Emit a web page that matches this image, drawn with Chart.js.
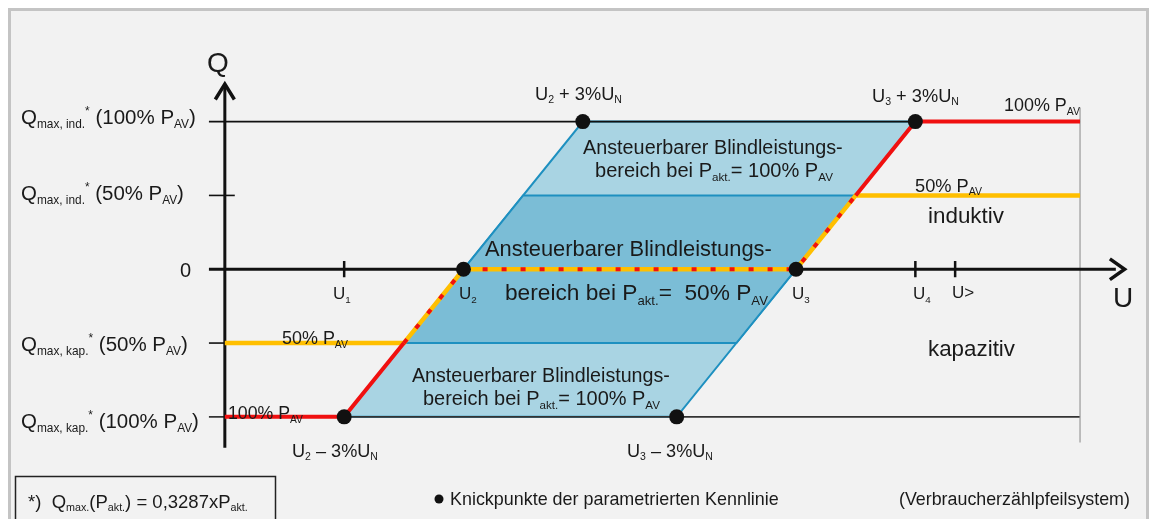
<!DOCTYPE html>
<html>
<head>
<meta charset="utf-8">
<script src="https://cdn.jsdelivr.net/npm/chart.js@4/dist/chart.umd.min.js"></script>
<style>
html,body{margin:0;padding:0;background:#fff;}
canvas{display:block;}
</style>
</head>
<body>
<canvas id="c" width="1154" height="519"></canvas>
<script>
// ---------- DATA (U in % of U_N, Q in p.u. of Qmax) ----------
const KNICK_U = [94, 97, 100, 108.36, 105.36, 102.36];
const KNICK_Q = [-1, 0, 1, 1, 0, -1];
const CHAR100_U = [91, 94, 95.5, 97, 105.36, 106.86, 108.36, 112.5];
const CHAR100_Q = [-1, -1, -0.5, 0, 0, 0.5, 1, 1];
const CHAR50_U = [91, 95.5, 97, 105.36, 106.86, 112.5];
const CHAR50_Q = [-0.5, -0.5, 0, 0, 0.5, 0.5];
const AREA100_U = [94, 100, 108.36, 102.36, 94];
const AREA100_Q = [-1, 1, 1, -1, -1];
const AREA50_U = [95.5, 98.5, 106.86, 103.86, 95.5];
const AREA50_Q = [-0.5, 0.5, 0.5, -0.5, -0.5];
const Q_LEVELS = [1, 0.5, 0, -0.5, -1];
const U_TICKS = [94, 108.36, 109.36];
const REF_U = [90.6, 112.5];

function pts(us, qs){ return us.map((u,i)=>({x:u, y:qs[i]})); }

const BLACK = '#111';
const layers = [
  // bottom -> top
  {data: pts(AREA100_U, AREA100_Q), fill:'shape', backgroundColor:'#a9d4e3', borderColor:'#1e90c0', borderWidth:2},
  {data: pts(AREA50_U, AREA50_Q), fill:'shape', backgroundColor:'#7bbdd6', borderColor:'#1e90c0', borderWidth:2},
  {data: pts(REF_U, [Q_LEVELS[0], Q_LEVELS[0]]), borderColor:BLACK, borderWidth:1.6},
  {data: pts(REF_U, [Q_LEVELS[4], Q_LEVELS[4]]), borderColor:'#333', borderWidth:1.6},
  {data: pts([112.5,112.5],[1.095,-1.174]), borderColor:'#9a9a9a', borderWidth:1.2},
  {data: pts([90.6,91.25],[Q_LEVELS[1],Q_LEVELS[1]]), borderColor:BLACK, borderWidth:1.6},
  {data: pts([90.6,91],[Q_LEVELS[3],Q_LEVELS[3]]), borderColor:BLACK, borderWidth:1.6},
  {data: pts([90.6,113.4],[0,0]), borderColor:BLACK, borderWidth:3},
  {data: pts([91,91],[-1.21,1.24]), borderColor:BLACK, borderWidth:3},
  {data: pts([113.25,113.62,113.25],[0.07,0,-0.07]), borderColor:BLACK, borderWidth:3.5},
  {data: pts([90.76,91,91.24],[1.15,1.255,1.15]), borderColor:BLACK, borderWidth:3.5},
  ...U_TICKS.map(u=>({data: pts([u,u],[0.055,-0.055]), borderColor:BLACK, borderWidth:2.5})),
  {data: pts(CHAR50_U, CHAR50_Q), borderColor:'#ffbf00', borderWidth:4.5},
  {data: pts(CHAR100_U, CHAR100_Q), borderColor:'#f01010', borderWidth:4,
    segment:{borderDash: c => (c.p0DataIndex>=2 && c.p0DataIndex<=4) ? [5,14] : undefined}},
  {data: pts(KNICK_U, KNICK_Q), showLine:false, pointRadius:7.5, pointBackgroundColor:BLACK, pointBorderWidth:0}
];
const N = layers.length;
const datasets = layers.map((d,i)=>Object.assign({showLine:true, pointRadius:0, tension:0, fill:false, order:N-i, borderCapStyle:'butt', clip:false}, d));

// ---------- TEXT ----------
const FONT = '"Liberation Sans", Arial, sans-serif';
const SUB = 0.58;
function richWidth(ctx, parts, size){
  let w=0;
  for(const [t,m] of parts){
    const s = m ? size*SUB : size;
    ctx.font = s+'px '+FONT;
    w += ctx.measureText(t).width;
  }
  return w;
}
function drawRich(ctx, parts, x, y, size, align){
  const w = richWidth(ctx, parts, size);
  let cx = align==='center' ? x-w/2 : align==='right' ? x-w : x;
  const base = y + size*0.36;
  ctx.textBaseline = 'alphabetic';
  ctx.textAlign = 'left';
  for(const [t,m] of parts){
    const s = m ? size*SUB : size;
    ctx.font = s+'px '+FONT;
    const by = m==='b' ? base + size*0.2 : m==='p' ? base - size*0.45 : base;
    ctx.fillText(t, cx, by);
    cx += ctx.measureText(t).width;
  }
}
const TEXTS = [
  {p:[['Q']], x:218, y:62, s:28, a:'center'},
  {p:[['U']], x:1123, y:297, s:28, a:'center'},
  {p:[['Q'],['max, ind.','b'],['*','p'],[' (100% P'],['AV','b'],[')']], x:21, y:117, w:175},
  {p:[['Q'],['max, ind.','b'],['*','p'],[' (50% P'],['AV','b'],[')']], x:21, y:193, w:163},
  {p:[['0']], x:191, y:270, s:20, a:'right'},
  {p:[['Q'],['max, kap.','b'],['*','p'],[' (50% P'],['AV','b'],[')']], x:21, y:344, w:167},
  {p:[['Q'],['max, kap.','b'],['*','p'],[' (100% P'],['AV','b'],[')']], x:21, y:421, w:178},
  {p:[['U'],['1','b']], x:333, y:293, s:17},
  {p:[['U'],['2','b']], x:459, y:293, s:17},
  {p:[['U'],['3','b']], x:792, y:293, s:17},
  {p:[['U'],['4','b']], x:913, y:293, s:17},
  {p:[['U>']], x:952, y:292, s:17},
  {p:[['U'],['2','b'],[' + 3%U'],['N','b']], x:535, y:93, w:87},
  {p:[['U'],['3','b'],[' + 3%U'],['N','b']], x:872, y:95, w:87},
  {p:[['U'],['2','b'],[' \u2013 3%U'],['N','b']], x:292, y:450, w:86},
  {p:[['U'],['3','b'],[' \u2013 3%U'],['N','b']], x:627, y:450, w:86},
  {p:[['100% P'],['AV','b']], x:1004, y:105, w:76},
  {p:[['100% P'],['AV','b']], x:228, y:413, w:75},
  {p:[['50% P'],['AV','b']], x:915, y:185, w:67},
  {p:[['50% P'],['AV','b']], x:282, y:338, w:66},
  {p:[['induktiv']], x:928, y:215, w:76},
  {p:[['kapazitiv']], x:928, y:348, w:87},
  {p:[['Ansteuerbarer Blindleistungs-']], x:583, y:147, w:260},
  {p:[['bereich bei P'],['akt.','b'],['= 100% P'],['AV','b']], x:595, y:170, w:238},
  {p:[['Ansteuerbarer Blindleistungs-']], x:485, y:248, w:287},
  {p:[['bereich bei P'],['akt.','b'],['=  50% P'],['AV','b']], x:505, y:292, w:263},
  {p:[['Ansteuerbarer Blindleistungs-']], x:412, y:375, w:258},
  {p:[['bereich bei P'],['akt.','b'],['= 100% P'],['AV','b']], x:423, y:398, w:237},
  {p:[['*)  Q'],['max.','b'],['(P'],['akt.','b'],[') = 0,3287xP'],['akt.','b']], x:28, y:501, w:220},
  {p:[['Knickpunkte der parametrierten Kennlinie']], x:450, y:499, w:329},
  {p:[['(Verbraucherzählpfeilsystem)']], x:899, y:499, w:231}
];

const decor = {
  id:'decor',
  beforeDraw(chart){
    const ctx = chart.ctx;
    ctx.save();
    ctx.fillStyle='#fff'; ctx.fillRect(0,0,1154,519);
    ctx.fillStyle='#f2f2f2'; ctx.fillRect(9,9,1139,520);
    ctx.strokeStyle='#c4c4c4'; ctx.lineWidth=3; ctx.strokeRect(9.5,9.5,1138,530);
    ctx.restore();
  },
  afterDatasetsDraw(chart){
    const ctx = chart.ctx;
    ctx.save();
    ctx.fillStyle='#1a1a1a';
    for(const t of TEXTS){
      let s = t.s;
      if(!s){ s = 100*t.w/richWidth(ctx, t.p, 100); }
      drawRich(ctx, t.p, t.x, t.y, s, t.a||'left');
    }
    // footnote box
    ctx.strokeStyle='#222'; ctx.lineWidth=1.5;
    ctx.strokeRect(15.5,476.5,260,60);
    ctx.fillStyle='#111';
    ctx.beginPath(); ctx.arc(439,499,4.5,0,Math.PI*2); ctx.fill();
    ctx.restore();
  }
};

new Chart(document.getElementById('c'), {
  type:'scatter',
  data:{datasets},
  options:{
    responsive:false, animation:false, devicePixelRatio:1,
    layout:{padding:0},
    plugins:{legend:{display:false}, tooltip:{enabled:false}},
    scales:{
      x:{type:'linear', min:85.536, max:114.171, display:false},
      y:{type:'linear', min:-1.641, max:1.773, display:false}
    }
  },
  plugins:[decor]
});
</script>
</body>
</html>
